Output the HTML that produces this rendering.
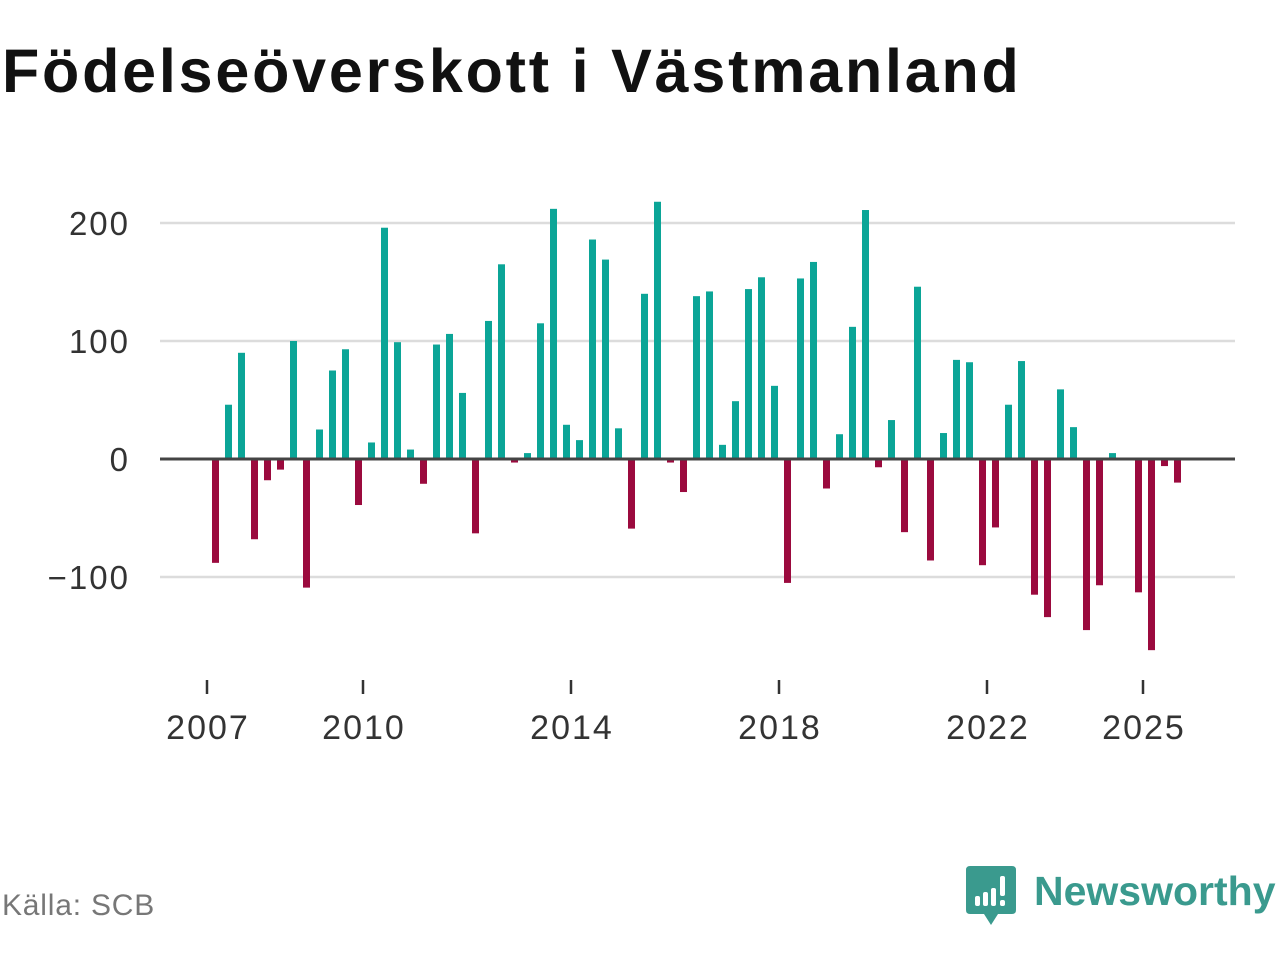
<!DOCTYPE html>
<html><head><meta charset="utf-8"><style>
body{margin:0;width:1280px;height:960px;background:#fff;font-family:"Liberation Sans",sans-serif;overflow:hidden;position:relative}
#title{position:absolute;left:2px;top:36px;font-size:61px;font-weight:bold;color:#111;letter-spacing:2.8px;white-space:nowrap}
#source{position:absolute;left:2px;top:889px;font-size:30px;color:#777;letter-spacing:0.8px}
#logo{position:absolute;left:966px;top:866px;display:flex;align-items:center}
#logo span{font-size:41px;color:#3a9a8e;margin-left:18px;font-weight:600;letter-spacing:0;margin-top:-10px}
</style></head><body>
<div id="title">Födelseöverskott i Västmanland</div>
<svg id="chart" width="1280" height="960" style="position:absolute;left:0;top:0"></svg>
<div id="source">Källa: SCB</div>
<div id="logo">
<svg width="50" height="60" viewBox="0 0 50 60"><path d="M4 0H46Q50 0 50 4V44Q50 48 46 48H32L25 59L18 48H4Q0 48 0 44V4Q0 0 4 0Z" fill="#3a9a8e"/><rect x="9" y="30" width="5" height="10" rx="2" fill="#fff"/><rect x="17" y="26" width="5" height="14" rx="2" fill="#fff"/><rect x="25" y="22" width="5" height="18" rx="2" fill="#fff"/><rect x="34" y="10" width="5" height="20" rx="2" fill="#fff"/><rect x="34" y="34" width="5" height="6" rx="2" fill="#fff"/></svg>
<span>Newsworthy</span></div>
<script>
const startYear=2007;
const values=[-88,46,90,-68,-18,-9,100,-109,25,75,93,-39,14,196,99,8,-21,97,106,56,-63,117,165,-3,5,115,212,29,16,186,169,26,-59,140,218,-3,-28,138,142,12,49,144,154,62,-105,153,167,-25,21,112,211,-7,33,-62,146,-86,22,84,82,-90,-58,46,83,-115,-134,59,27,-145,-107,5,0,-113,-162,-6,-20];
const yTicks=[200,100,0,-100];
const yTickLabels=["200","100","0","\u2212100"];
const xTicks=[2007,2010,2014,2018,2022,2025];
const NS="http://www.w3.org/2000/svg";
const svg=document.getElementById('chart');
function x(t){return 207+(t-2007)*52;}
function y(v){return 459-v*1.18;}
function el(tag,attrs,txt){const e=document.createElementNS(NS,tag);for(const k in attrs)e.setAttribute(k,attrs[k]);if(txt!=null)e.textContent=txt;svg.appendChild(e);return e;}
yTicks.forEach((v,i)=>{
 if(v!==0){const g=el('line',{x1:160,x2:1235,y1:y(v),y2:y(v),stroke:'#dcdcdc','stroke-width':2.5});
 
 }
 const t=el('text',{x:130,y:y(v)+12,'text-anchor':'end','font-size':33,'letter-spacing':2,fill:'#333','font-family':'Liberation Sans, sans-serif'},yTickLabels[i]);
 
 
});
values.forEach((v,i)=>{
 const cx=x(startYear+i/4)+8.5;
 const r=el('rect',{x:cx-3.5,width:7,y:Math.min(y(v),y(0)),height:Math.abs(y(v)-y(0)),fill:v>=0?'#0ba597':'#9b0a3e'});
 
 
});
const z=el('line',{x1:160,x2:1235,y1:y(0),y2:y(0),stroke:'#444','stroke-width':3});


xTicks.forEach(t=>{
 const l=el('line',{x1:x(t),x2:x(t),y1:680,y2:694,stroke:'#333','stroke-width':2.5});
 
 
 const tx=el('text',{x:x(t)+1,y:739,'text-anchor':'middle','font-size':34,'letter-spacing':2,fill:'#333','font-family':'Liberation Sans, sans-serif'},String(t));
 
 
});
</script>
</body></html>
